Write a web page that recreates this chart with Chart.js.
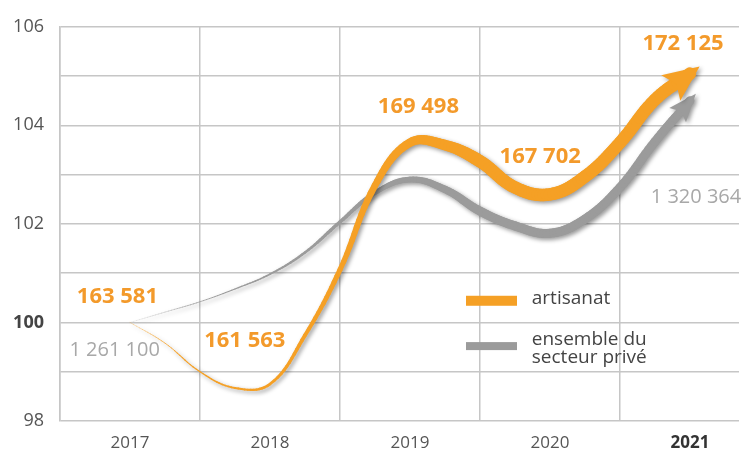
<!DOCTYPE html>
<html>
<head>
<meta charset="utf-8">
<script src="https://cdn.jsdelivr.net/npm/chart.js@4/dist/chart.umd.min.js"></script>
<style>
  html, body { margin: 0; padding: 0; background: #fff; }
  #wrap { width: 751px; height: 454px; }
</style>
</head>
<body>
<div id="wrap"><canvas id="graphique"></canvas></div>
<script>
const annees = [2017, 2017.25, 2017.5, 2017.75, 2018, 2018.25, 2018.5, 2018.75, 2019,
                2019.25, 2019.5, 2019.75, 2020, 2020.25, 2020.5, 2020.75, 2021];
const artisanat = [100, 99.58, 99.0, 98.67, 98.75, 99.74, 101.07, 102.78, 103.65,
                   103.6, 103.27, 102.74, 102.6, 102.96, 103.65, 104.52, 105.05];
const secteurPrive = [100, 100.21, 100.42, 100.68, 100.98, 101.42, 102.04, 102.63, 102.9,
                      102.7, 102.26, 101.96, 101.81, 102.1, 102.74, 103.67, 104.5];

// effectifs affichés sur le graphique
const etiquettesArtisanat = ['163 581', '161 563', '169 498', '167 702', '172 125'];
const etiquettesPrive = ['1 261 100', '1 320 364'];
const libelles = ['artisanat', ['ensemble du', 'secteur privé']];

const ORANGE = '#f5a025';
const GRIS = '#9b9b9b';
const POLICE = '"Open Sans", sans-serif';

function points(valeurs) {
    return annees.map((a, i) => ({ x: a, y: valeurs[i] }));
}

// épaisseur qui grossit le long de la courbe (s = avancement en nombre de points)
function epaisseur(orange, s) {
    return orange ? Math.min(12.5, 0.8 + 0.12 * s * s) : Math.min(9, 0.4 + 0.085 * s * s);
}

function bezier(a, b, c, d, t) {
    const u = 1 - t;
    return u * u * u * a + 3 * u * u * t * b + 3 * u * t * t * c + t * t * t * d;
}

// trace la courbe calculée par Chart.js (points + points de contrôle) avec une épaisseur croissante
function tracerCourbe(ctx, meta, orange) {
    const pts = meta.data;
    const pas = 12;
    ctx.strokeStyle = orange ? ORANGE : GRIS;
    ctx.lineCap = 'round';
    for (let i = 0; i < pts.length - 1; i++) {
        const p0 = pts[i], p1 = pts[i + 1];
        let px = p0.x, py = p0.y;
        for (let k = 1; k <= pas; k++) {
            const t = k / pas;
            const qx = bezier(p0.x, p0.cp2x, p1.cp1x, p1.x, t);
            const qy = bezier(p0.y, p0.cp2y, p1.cp1y, p1.y, t);
            const s = i + (k - 0.5) / pas;
            ctx.globalAlpha = Math.min(1, 0.3 + 0.45 * s);
            ctx.lineWidth = epaisseur(orange, s);
            ctx.beginPath();
            ctx.moveTo(px, py);
            ctx.lineTo(qx, qy);
            ctx.stroke();
            px = qx; py = qy;
        }
    }
    ctx.globalAlpha = 1;
}

function dessinerFleche(ctx, meta, orange) {
    const dernier = meta.data[meta.data.length - 1];
    const dx = dernier.x - dernier.cp1x;
    const dy = dernier.y - dernier.cp1y;
    const n = Math.hypot(dx, dy) || 1;
    const ux = dx / n, uy = dy / n;
    const longueur = orange ? 36 : 28;
    const demi = orange ? 16 : 11;
    const avance = orange ? 12 : 9;
    const encoche = orange ? 7 : 5;
    const tx = dernier.x + ux * avance, ty = dernier.y + uy * avance;
    const bx = tx - ux * longueur, by = ty - uy * longueur;
    ctx.beginPath();
    ctx.moveTo(tx, ty);
    ctx.lineTo(bx - uy * demi, by + ux * demi);
    ctx.lineTo(bx + ux * encoche, by + uy * encoche);
    ctx.lineTo(bx + uy * demi, by - ux * demi);
    ctx.closePath();
    ctx.fillStyle = orange ? ORANGE : GRIS;
    ctx.fill();
}

// chaque courbe est dessinée à part puis recopiée avec une seule ombre portée
const pluginFleches = {
    id: 'fleches',
    beforeDatasetDraw(chart, args) {
        const meta = args.meta;
        const orange = args.index === 0;
        const hors = document.createElement('canvas');
        hors.width = chart.canvas.width;
        hors.height = chart.canvas.height;
        const octx = hors.getContext('2d');
        tracerCourbe(octx, meta, orange);
        dessinerFleche(octx, meta, orange);

        const ctx = chart.ctx;
        ctx.save();
        ctx.setTransform(1, 0, 0, 1, 0, 0);
        ctx.shadowColor = 'rgba(0,0,0,0.4)';
        ctx.shadowBlur = 4;
        ctx.shadowOffsetX = 2;
        ctx.shadowOffsetY = 2;
        ctx.drawImage(hors, 0, 0);
        ctx.restore();
        return false;
    }
};

// étiquettes des effectifs et légende dessinée dans la zone du graphique
const pluginTextes = {
    id: 'textes',
    afterDraw(chart) {
        const ctx = chart.ctx;
        const x = chart.scales.x, y = chart.scales.y;
        const posOrange = [[2016.91, 100.52], [2017.82, 99.62], [2019.06, 104.37], [2019.93, 103.37], [2020.95, 105.65]];
        ctx.save();
        ctx.textBaseline = 'middle';
        ctx.textAlign = 'center';
        ctx.font = 'bold 22px ' + POLICE;
        ctx.fillStyle = '#f39a2b';
        etiquettesArtisanat.forEach((t, i) => {
            ctx.fillText(t, x.getPixelForValue(posOrange[i][0]), y.getPixelForValue(posOrange[i][1]));
        });
        ctx.font = '20px ' + POLICE;
        ctx.fillStyle = '#a8a8a8';
        ctx.fillText(etiquettesPrive[0], x.getPixelForValue(2016.89), y.getPixelForValue(99.44));
        ctx.textAlign = 'left';
        ctx.fillText(etiquettesPrive[1], x.getPixelForValue(2020.72), y.getPixelForValue(102.55));

        // légende
        const lx = x.getPixelForValue(2019.4);
        const tx = x.getPixelForValue(2019.87);
        let ly = y.getPixelForValue(100.44);
        ctx.fillStyle = ORANGE;
        ctx.fillRect(lx, ly - 5, 51, 10);
        ctx.fillStyle = '#444';
        ctx.font = '19px ' + POLICE;
        ctx.fillText(libelles[0], tx, ly - 2);
        ly = y.getPixelForValue(99.52);
        ctx.fillStyle = GRIS;
        ctx.fillRect(lx, ly - 4, 51, 8);
        ctx.fillStyle = '#444';
        ctx.fillText(libelles[1][0], tx, ly - 7);
        ctx.fillText(libelles[1][1], tx, ly + 11);
        ctx.restore();
    }
};

new Chart(document.getElementById('graphique'), {
    type: 'line',
    data: {
        datasets: [
            {
                label: 'artisanat',
                data: points(artisanat),
                borderColor: ORANGE,
                tension: 0.4,
                pointRadius: 0
            },
            {
                label: 'ensemble du secteur privé',
                data: points(secteurPrive),
                borderColor: GRIS,
                tension: 0.4,
                pointRadius: 0
            }
        ]
    },
    options: {
        responsive: true,
        maintainAspectRatio: false,
        animation: false,
        layout: { padding: { top: 24, right: 12, left: 0, bottom: 0 } },
        plugins: { legend: { display: false }, tooltip: { enabled: false } },
        scales: {
            x: {
                type: 'linear',
                min: 2016.5,
                max: 2021.35,
                afterFit: s => { s.height = 33; },
                border: { display: false },
                grid: {
                    drawTicks: false,
                    lineWidth: 1.5,
                    color: c => Number.isInteger(c.tick.value) ? 'rgba(0,0,0,0)' : '#c6c6c6'
                },
                ticks: {
                    stepSize: 0.5,
                    includeBounds: false,
                    autoSkip: false,
                    maxRotation: 0,
                    padding: 12,
                    color: c => c.tick && c.tick.value === 2021 ? '#333' : '#555',
                    font: c => ({ family: POLICE, size: 17, weight: c.tick && c.tick.value === 2021 ? 'bold' : 'normal' }),
                    callback: v => Number.isInteger(v) ? String(v) : ''
                }
            },
            y: {
                min: 98,
                max: 106,
                afterFit: s => { s.width = 60; },
                border: { display: true, color: '#c6c6c6', width: 1.5 },
                grid: { drawTicks: false, lineWidth: 1.5, color: '#c6c6c6' },
                ticks: {
                    stepSize: 1,
                    padding: 16,
                    color: c => c.tick && c.tick.value === 100 ? '#444' : '#555',
                    font: c => ({ family: POLICE, size: 18, weight: c.tick && c.tick.value === 100 ? 'bold' : 'normal' }),
                    callback: v => v % 2 === 0 ? String(v) : ''
                }
            }
        }
    },
    plugins: [pluginFleches, pluginTextes]
});
</script>
</body>
</html>
